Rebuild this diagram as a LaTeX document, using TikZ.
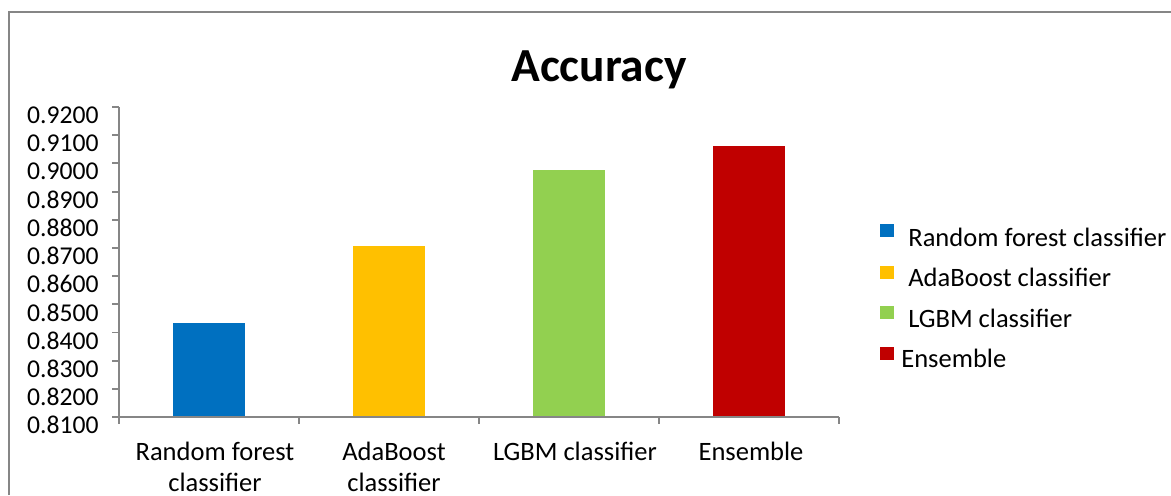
\documentclass[tikz,border=0pt]{standalone}
\usepackage{fontspec}
\setmainfont{Carlito}
\usepackage{tikz}
\usetikzlibrary{
  positioning,
  calc
}
\definecolor{axisgray}{HTML}{868686}
\definecolor{rfblue}{HTML}{0070C0}
\definecolor{adaorange}{HTML}{FFC000}
\definecolor{lgbmgreen}{HTML}{92D050}
\definecolor{ensred}{HTML}{C00000}
\tikzset{
  chart frame/.style={draw=axisgray,line width=1.5pt},
  axis rule/.style={draw=axisgray,line width=1.1pt},
  tick label/.style={font=\fontsize{14.6}{17}\selectfont,anchor=north east,inner sep=0pt},
  cat label/.style={font=\fontsize{15.1}{17.2}\selectfont,align=center,anchor=north,inner sep=0pt},
  leg box/.style={minimum width=0.28cm,minimum height=0.26cm,inner sep=0pt},
  leg label/.style={font=\fontsize{15.1}{17}\selectfont,anchor=base west,inner sep=0pt},
  chart title/.style={font=\fontsize{27}{32}\selectfont\bfseries,inner sep=0pt},
}

\begin{document}
\begin{tikzpicture}[x=0.02cm,y=-0.02cm]
\useasboundingbox (0,0) rectangle (1171,495);
\draw[chart frame] (9,495) -- (9,12) -- (1171,12);
\node[chart title] (title) at (599,70) {Accuracy};
% value axis
\foreach \v [count=\i from 0] in {8100,8200,8300,8400,8500,8600,8700,8800,8900,9000,9100,9200}
{
  \draw[axis rule] (112,{417-28.18*\i}) -- (119,{417-28.18*\i});
  \node[tick label] (tick\i) at (99,{416-28.18*\i}) {0.\v};
}
% bars
\foreach \name/\val/\col [count=\i] in {rf/0.8433/rfblue,ada/0.8707/adaorange,lgbm/0.8977/lgbmgreen,ens/0.9062/ensred}
{
  \fill[\col] ({119+180*\i-126},417) rectangle ({119+180*\i-54},{417-(\val-0.81)*2818});
}
\draw[axis rule] (119,107) -- (119,417) -- (839,417);
\foreach \i in {0,...,4}
  \draw[axis rule] ({119+180*\i},417) -- ({119+180*\i},424);
% category labels
\node[cat label] (catrf) at (215,442) {Random forest\\classifier};
\node[cat label] (catada) at (394,442) {AdaBoost\\classifier};
\node[cat label] (catlgbm) at (575,442) {LGBM classifier};
\node[cat label] (catens) at (751,442) {Ensemble};
% legend
\node[leg box,fill=rfblue] (legrf) at (887,230) {};
\node[leg box,fill=adaorange] (legada) at (887,272) {};
\node[leg box,fill=lgbmgreen] (leglgbm) at (887,312) {};
\node[leg box,fill=ensred] (legens) at (887,353) {};
\node[leg label] (txtrf) at (908,246) {Random forest classifier};
\node[leg label] (txtada) at (908,286) {AdaBoost classifier};
\node[leg label] (txtlgbm) at (908,327) {LGBM classifier};
\node[leg label] (txtens) at (901,367) {Ensemble};
\end{tikzpicture}
\end{document}
